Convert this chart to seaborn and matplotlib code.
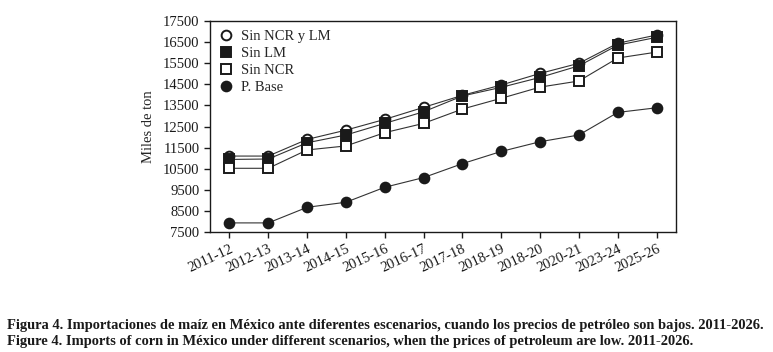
import pandas as pd
import seaborn as sns
import matplotlib.pyplot as plt

years = ['2011-12', '2012-13', '2013-14', '2014-15', '2015-16', '2016-17',
         '2017-18', '2018-19', '2018-20', '2020-21', '2023-24', '2025-26']
sin_ncr_lm = [11100, 11100, 11890, 12330, 12840, 13410, 13980, 14470, 15020, 15500, 16450, 16840]
sin_lm = [10940, 10960, 11730, 12100, 12650, 13200, 13950, 14360, 14830, 15380, 16360, 16730]
sin_ncr = [10520, 10520, 11390, 11580, 12210, 12650, 13330, 13840, 14370, 14660, 15750, 16030]
p_base = [7930, 7930, 8670, 8910, 9620, 10080, 10740, 11320, 11780, 12100, 13170, 13390]

sns.set_style('ticks')
plt.rcParams['font.family'] = ['Liberation Serif', 'DejaVu Serif']

fig = plt.figure(figsize=(7.73, 3.52), dpi=100)
ax = fig.add_axes([0.2717, 0.341, 0.6028, 0.599])

series = [
    ('Sin NCR y LM', sin_ncr_lm, 'o', 'white'),
    ('Sin LM', sin_lm, 's', '#1a1a1a'),
    ('Sin NCR', sin_ncr, 's', 'white'),
    ('P. Base', p_base, 'o', '#1a1a1a'),
]
for i, (name, vals, mk, fc) in enumerate(series):
    df = pd.DataFrame({'Periodo': years, 'Valor': vals})
    sns.lineplot(data=df, x='Periodo', y='Valor', ax=ax, sort=False, label=name,
                 color='#333333', linewidth=0.8, marker=mk, markersize=7,
                 markerfacecolor=fc, markeredgecolor='#1a1a1a', markeredgewidth=1.4,
                 zorder=3 + i)

ax.set_xlim(-0.5, 11.5)
ax.set_ylim(7500, 17500)
ax.set_yticks(range(7500, 17501, 1000))
ax.set_xlabel('')
ax.set_ylabel('Miles de ton', fontsize=10.5, labelpad=6)
for s in ax.spines.values():
    s.set_linewidth(1.0)
    s.set_color('#1a1a1a')
ax.tick_params(axis='both', labelsize=10.5, length=4, width=1.0, colors='#1a1a1a')
plt.setp(ax.get_xticklabels(), rotation=25, ha='right', rotation_mode='anchor')

leg = ax.legend(loc='upper left', frameon=False, fontsize=10.5, handlelength=1.0,
                handletextpad=0.5, borderaxespad=0.2, labelspacing=0.25)
for h in leg.legend_handles:
    h.set_linestyle('none')

fig.text(0.009, 0.066, 'Figura 4. Importaciones de maíz en México ante diferentes escenarios, '
         'cuando los precios de petróleo son bajos. 2011-2026.',
         fontsize=10.45, fontweight='bold', color='#1a1a1a')
fig.text(0.009, 0.02, 'Figure 4. Imports of corn in México under different scenarios, '
         'when the prices of petroleum are low. 2011-2026.',
         fontsize=10.45, fontweight='bold', color='#1a1a1a')

fig.savefig('out.png', dpi=100)
